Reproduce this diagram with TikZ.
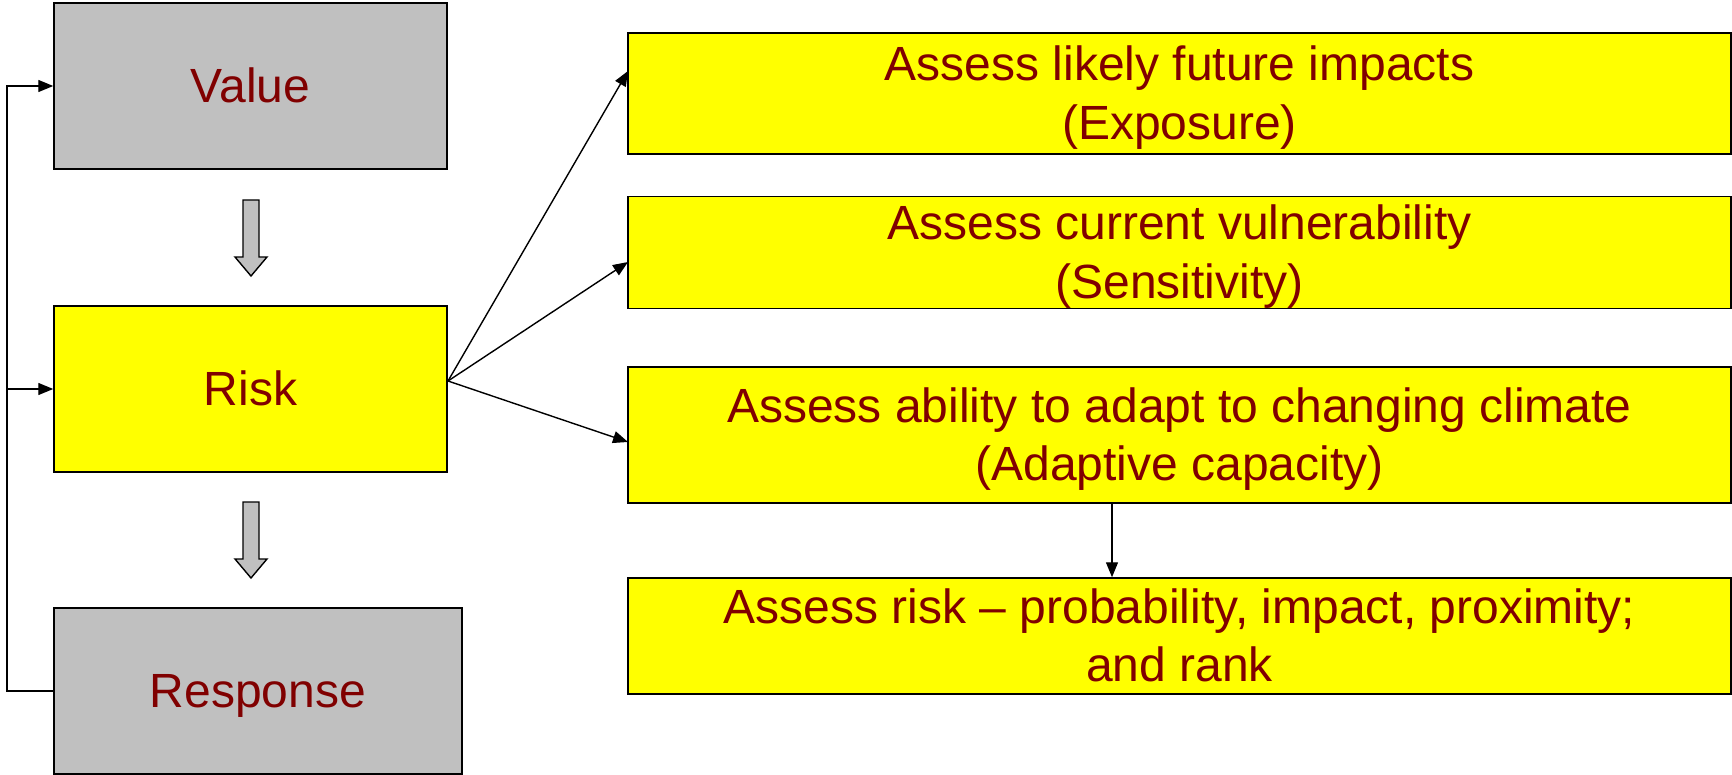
\documentclass[tikz,border=0pt]{standalone}
\usepackage{fontspec}
\setmainfont{Liberation Sans}
\usetikzlibrary{arrows.meta,calc}
\definecolor{txtred}{RGB}{128,0,0}
\definecolor{boxgray}{RGB}{192,192,192}
\definecolor{boxyellow}{RGB}{255,255,0}
\newcommand\mystrut{\rule[-0.212em]{0pt}{1.117em}}
\tikzset{
  box/.style={draw=black, line width=1.5pt, inner sep=0pt, align=center,
    text=txtred, font=\fontsize{48}{58.5}\selectfont},
  graybox/.style={box, fill=boxgray},
  yellowbox/.style={box, fill=boxyellow},
  conn/.style={line width=1.4pt, draw=black},
  arr/.style={conn, -{Triangle[length=15pt,width=12pt]}},
  blockarrow/.style={draw=black, line width=1.4pt, fill=boxgray, line join=miter}
}
\begin{document}
\begin{tikzpicture}[x=1pt,y=-1pt]
\useasboundingbox (0,0) rectangle (1732,775);
% left column
\node[graybox, minimum width=393pt, minimum height=166pt] (val) at (250.5,86) {\mystrut Value};
\node[yellowbox, minimum width=393pt, minimum height=166pt] (risk) at (250.5,389) {\mystrut Risk};
\node[graybox, minimum width=408pt, minimum height=166pt] (resp) at (258,691) {\mystrut Response};
% right column
\node[yellowbox, minimum width=1103pt, minimum height=121pt] (b1) at (1179.5,93.5) {\mystrut Assess likely future impacts\\\mystrut (Exposure)};
\node[yellowbox, minimum width=1103pt, minimum height=105pt] (b2) at (1179.5,252.5) {\mystrut Assess current vulnerability\\\mystrut (Sensitivity)};
\node[yellowbox, minimum width=1103pt, minimum height=136pt] (b3) at (1179.5,435) {\mystrut Assess ability to adapt to changing climate\\\mystrut (Adaptive capacity)};
\node[yellowbox, minimum width=1103pt, minimum height=116pt] (b4) at (1179.5,636) {\mystrut Assess risk -- probability, impact, proximity;\\\mystrut and rank};
% block arrows
\draw[blockarrow] (243,200) -- (259,200) -- (259,257) -- (267,257) -- (251,276) -- (235,257) -- (243,257) -- cycle;
\draw[blockarrow] (243,502) -- (259,502) -- (259,559) -- (267,559) -- (251,578) -- (235,559) -- (243,559) -- cycle;
% feedback loop
\coordinate (fbbot) at (7,691);
\coordinate (fbrisk) at (7,389);
\draw[conn] (resp.west) -- (fbbot) -- (fbrisk);
\draw[arr] (fbrisk) -- (risk.west);
\draw[arr] (fbrisk) |- (val.west);
% fan arrows
\coordinate (src) at (448,381);
\coordinate (t1) at (628,71);
\coordinate (t2) at (628,262);
\coordinate (t3) at (628,442);
\draw[arr] (src) -- (t1);
\draw[arr] (src) -- (t2);
\draw[arr] (src) -- (t3);
% vertical arrow
\coordinate (vx) at (1112,0);
\draw[arr] (b3.south -| vx) -- (b4.north -| vx);
\end{tikzpicture}
\end{document}
